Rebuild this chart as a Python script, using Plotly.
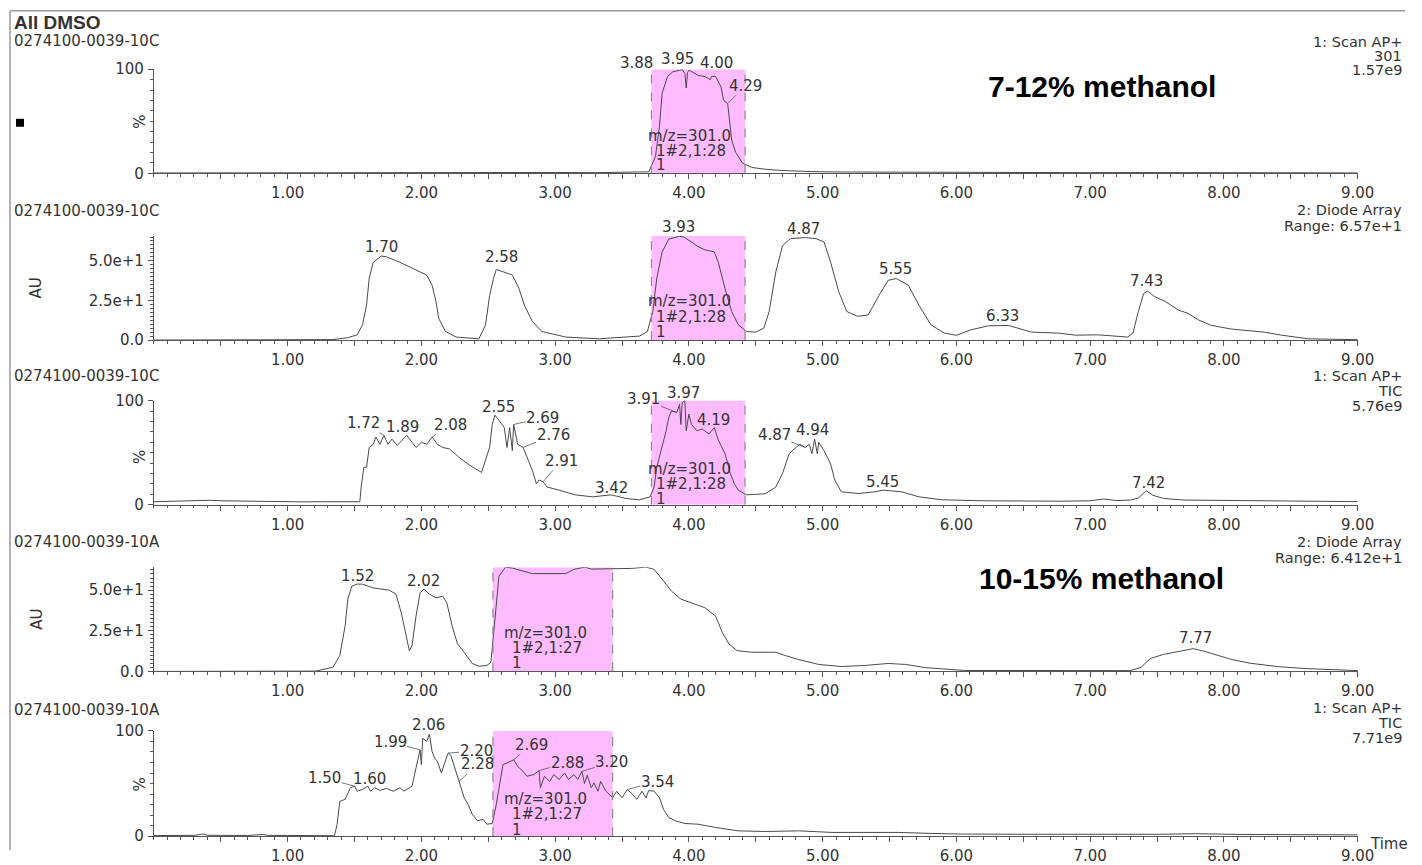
import numpy as np
import plotly.graph_objects as go

W, H = 1422, 865
# page placement of the drawing (scale and vertical offset of the rendered sheet)
SX, SY, OY = 0.989, 0.980, 8.3
TXT = "#333333"
AXC = "#555555"
TRC = "#4a4a4a"
PINK = "#FFBBFF"
FONT = "DejaVu Sans"
FS = 15

# ---------------- chromatogram data (time in min, response) ----------------
# 0274100-0039-10C, 1: Scan AP+ 301 (%)
ms301_10c = [(0, 0.4), (0.3, 0.5), (0.6, 0.7), (0.9, 0.9), (1.2, 0.8), (1.5, 1.0), (1.8, 0.8),
             (2.1, 0.9), (2.4, 0.7), (2.7, 0.8), (3.0, 0.9), (3.3, 0.7), (3.6, 0.9), (3.70, 1.5),
             (3.75, 16), (3.78, 45), (3.80, 77), (3.84, 93), (3.88, 97.5), (3.93, 99), (3.95, 99.5),
             (3.97, 96), (3.98, 82), (3.99, 97), (4.00, 99), (4.03, 97), (4.07, 94), (4.12, 93),
             (4.16, 90), (4.17, 93), (4.20, 93), (4.24, 83), (4.26, 70), (4.29, 67), (4.30, 55),
             (4.32, 32), (4.35, 20), (4.40, 10), (4.47, 5.7), (4.57, 4.0), (4.69, 2.8), (4.8, 2.2),
             (4.95, 1.6), (5.2, 1.3), (5.5, 1.1), (5.8, 1.0), (6.1, 0.9), (6.4, 0.8), (6.7, 0.9),
             (7.0, 0.7), (7.3, 0.8), (7.6, 0.9), (7.9, 0.7), (8.2, 0.6), (8.5, 0.6), (8.8, 0.5),
             (9.0, 0.4)]

# 0274100-0039-10C, 2: Diode Array (AU)
da_10c = [(0, 0), (0.5, 0), (1.0, 0), (1.34, 0.3), (1.45, 1.5), (1.52, 3.3), (1.56, 9.6), (1.59, 22),
          (1.61, 39), (1.64, 49), (1.70, 53), (1.74, 52.5), (1.84, 49), (1.96, 44), (2.04, 41),
          (2.08, 34.6), (2.11, 24), (2.13, 13.7), (2.18, 5.4), (2.26, 1.9), (2.43, 0.8), (2.48, 9.6),
          (2.51, 28), (2.54, 39), (2.56, 44.5), (2.58, 44), (2.68, 41), (2.73, 32.5), (2.77, 22),
          (2.83, 11.7), (2.90, 5.4), (3.08, 1.9), (3.33, 0.8), (3.63, 2.5), (3.69, 5.4), (3.73, 18),
          (3.76, 39), (3.80, 55.6), (3.85, 63.7), (3.93, 65.4), (3.96, 65), (4.02, 61.9),
          (4.07, 58.8), (4.12, 56.9), (4.19, 55.6), (4.22, 49), (4.27, 32.5), (4.32, 18),
          (4.37, 9.6), (4.43, 5.4), (4.50, 5), (4.56, 7.5), (4.60, 18), (4.65, 43), (4.70, 59.6),
          (4.76, 64), (4.87, 64.6), (4.95, 64), (5.01, 61.9), (5.06, 49), (5.12, 30.6), (5.18, 18),
          (5.26, 15), (5.34, 15.8), (5.42, 28), (5.49, 37.7), (5.55, 38.8), (5.64, 34.6), (5.72, 22),
          (5.81, 9.6), (5.91, 4.4), (6.00, 3), (6.11, 6.5), (6.24, 9), (6.33, 9.4), (6.39, 9.2),
          (6.46, 7.5), (6.56, 5), (6.76, 4.4), (6.89, 3.1), (7.06, 3.3), (7.18, 2.5), (7.28, 1.9),
          (7.32, 4.4), (7.36, 18), (7.40, 29.4), (7.43, 30.8), (7.48, 27.5), (7.56, 24.4),
          (7.66, 18.9), (7.73, 16.9), (7.81, 12.7), (7.90, 9.4), (8.05, 7), (8.30, 5), (8.43, 3.1),
          (8.63, 0.8), (9.0, 0.2)]

# 0274100-0039-10C, 1: Scan AP+ TIC (%)
tic_10c = [(0, 2.9), (0.1, 3.2), (0.2, 3.4), (0.3, 3.8), (0.42, 4.3), (0.5, 3.8), (0.7, 3.3),
           (0.9, 3.0), (1.1, 2.8), (1.3, 2.9), (1.54, 2.9), (1.55, 17), (1.57, 36), (1.59, 36),
           (1.60, 49), (1.61, 55), (1.64, 58), (1.66, 65), (1.69, 58), (1.72, 66.7), (1.75, 58),
           (1.78, 63), (1.82, 57), (1.86, 62), (1.89, 66.7), (1.93, 60), (1.96, 55), (2.00, 60),
           (2.04, 58), (2.08, 65), (2.12, 58), (2.16, 55), (2.21, 53.6), (2.28, 45.7), (2.36, 38),
           (2.45, 31), (2.48, 42.9), (2.51, 55), (2.53, 77), (2.55, 86), (2.58, 81), (2.62, 74),
           (2.64, 55), (2.66, 74), (2.68, 52), (2.69, 77), (2.72, 58), (2.76, 55), (2.79, 45.7),
           (2.83, 33), (2.86, 20), (2.88, 23.8), (2.91, 22), (2.94, 17), (3.03, 14), (3.15, 9.5),
           (3.28, 7.6), (3.42, 9.5), (3.53, 6), (3.63, 4.8), (3.71, 7.6), (3.74, 17), (3.76, 36),
           (3.80, 55), (3.83, 71), (3.85, 84), (3.87, 90), (3.91, 88.6), (3.93, 96.5), (3.94, 77),
           (3.95, 98), (3.97, 100), (3.98, 71), (4.00, 87), (4.02, 77), (4.06, 71), (4.10, 72.7),
           (4.15, 68), (4.19, 74), (4.22, 62), (4.27, 49), (4.31, 30), (4.34, 20), (4.37, 14),
           (4.43, 9.5), (4.57, 10.5), (4.65, 17), (4.70, 30), (4.75, 49), (4.80, 55), (4.83, 58),
           (4.87, 55), (4.90, 58), (4.92, 49), (4.94, 63), (4.96, 49), (4.97, 60), (5.01, 52),
           (5.06, 39), (5.09, 23.8), (5.14, 12.4), (5.27, 10.8), (5.39, 12.4), (5.45, 14),
           (5.59, 12.4), (5.72, 7.6), (5.89, 4.8), (6.19, 3.8), (6.4, 3.6), (6.6, 3.8), (6.8, 3.4),
           (7.0, 3.8), (7.1, 5.5), (7.2, 4.0), (7.3, 4.5), (7.36, 6.5), (7.42, 13.5), (7.47, 9),
           (7.55, 6), (7.7, 4.5), (8.0, 4.0), (8.3, 3.5), (8.6, 3.2), (9.0, 3.0)]

# 0274100-0039-10A, 2: Diode Array (AU)
da_10a = [(0, 0), (0.5, 0), (1.0, 0), (1.21, 0.2), (1.34, 2.6), (1.39, 9.8), (1.43, 28), (1.45, 44.5),
          (1.48, 52.4), (1.52, 53.8), (1.56, 53.7), (1.64, 51.4), (1.76, 50), (1.81, 47.6),
          (1.85, 36), (1.89, 20), (1.91, 12.8), (1.93, 15.9), (1.96, 34), (1.99, 48.4), (2.02, 50.6),
          (2.06, 47.6), (2.11, 45.3), (2.16, 46.3), (2.19, 42.3), (2.23, 28), (2.27, 17),
          (2.32, 11.8), (2.38, 4.9), (2.43, 3.2), (2.49, 3.7), (2.52, 5.7), (2.54, 24), (2.56, 45),
          (2.58, 58.5), (2.63, 64.2), (2.68, 63.6), (2.83, 60.2), (2.96, 60.2), (3.08, 60.2),
          (3.14, 62.8), (3.22, 64.2), (3.27, 63), (3.33, 63), (3.45, 63), (3.57, 63.4), (3.68, 64.2),
          (3.74, 62.8), (3.80, 56.7), (3.87, 49.4), (3.94, 44.5), (4.02, 42), (4.12, 39.2),
          (4.20, 34), (4.25, 24), (4.30, 16.9), (4.36, 12.8), (4.47, 11.8), (4.65, 11.8), (4.72, 9.8),
          (4.82, 7.3), (4.97, 4.3), (5.14, 3), (5.32, 3.7), (5.49, 4.9), (5.62, 4.3), (5.77, 2.3),
          (6.06, 0.6), (6.5, 0.5), (7.0, 0.4), (7.3, 0.5), (7.38, 2.5), (7.45, 8), (7.55, 10.5),
          (7.65, 12), (7.77, 14), (7.85, 12.5), (7.95, 10), (8.05, 7.5), (8.2, 5), (8.4, 3),
          (8.6, 1.8), (8.8, 1.0), (9.0, 0.5)]

# 0274100-0039-10A, 1: Scan AP+ TIC (%)
tic_10a = [(0, 0.5), (0.1, 0.6), (0.2, 0.8), (0.3, 0.7), (0.37, 2.0), (0.4, 0.8), (0.5, 0.7),
           (0.6, 0.9), (0.7, 0.6), (0.82, 1.6), (0.85, 0.7), (1.0, 0.6), (1.1, 0.7), (1.2, 0.5),
           (1.3, 0.6), (1.35, 0.4), (1.37, 11), (1.39, 33), (1.43, 35), (1.45, 40), (1.47, 46),
           (1.50, 47.5), (1.52, 42.7), (1.56, 44.3), (1.60, 47.5), (1.62, 42.7), (1.65, 46),
           (1.69, 43.4), (1.74, 45.3), (1.79, 42.7), (1.84, 46), (1.87, 42.7), (1.93, 47.5),
           (1.96, 64.8), (1.99, 82), (2.00, 68), (2.01, 93), (2.04, 90), (2.06, 97), (2.08, 80.5),
           (2.10, 74), (2.12, 71), (2.15, 60), (2.17, 68), (2.20, 79), (2.22, 77), (2.25, 64.8),
           (2.28, 52), (2.30, 42.7), (2.32, 36.5), (2.35, 30), (2.38, 20.8), (2.42, 14.5),
           (2.46, 16), (2.49, 11.3), (2.53, 12), (2.56, 30), (2.58, 46), (2.61, 68), (2.64, 69.5),
           (2.69, 72.6), (2.72, 66.3), (2.76, 61.6), (2.79, 56.9), (2.84, 58.5), (2.88, 62.3),
           (2.89, 46), (2.92, 56.9), (2.96, 52), (2.99, 58.5), (3.03, 53.8), (3.07, 60), (3.10, 53.8),
           (3.14, 58.5), (3.17, 54), (3.20, 61.6), (3.22, 50), (3.24, 58), (3.27, 46), (3.29, 50.6),
           (3.32, 42.7), (3.34, 52), (3.38, 42.7), (3.43, 36.5), (3.46, 42.7), (3.50, 36.5),
           (3.54, 44.3), (3.58, 39.6), (3.61, 35), (3.65, 42.7), (3.68, 36.5), (3.70, 43.4),
           (3.74, 42.7), (3.78, 36.5), (3.81, 25.5), (3.85, 17.6), (3.90, 14.5), (3.97, 12),
           (4.07, 11.3), (4.20, 8.2), (4.37, 5), (4.57, 4.4), (4.82, 5), (5.07, 3.5), (5.3, 3.8),
           (5.57, 3.5), (5.8, 2.6), (6.06, 1.9), (6.4, 1.8), (6.8, 1.6), (7.2, 1.5), (7.5, 1.7),
           (7.8, 2.3), (8.1, 1.6), (8.5, 1.4), (9.0, 1.2)]

# peak labels: (retention time, label dx px, label dy px, leader line)
peaks_ms301_10c = [(3.88, -36, -9, False), (3.95, -5, -11, False), (4.00, 28, -7, False),
                   (4.29, 18, -18, True)]
peaks_da_10c = [(1.70, 0, -9, False), (2.58, 3, -13, False), (3.93, -1, -9, False),
                (4.87, -2, -9, False), (5.55, -1, -10, False), (6.33, 2, -9, False),
                (7.43, -1, -10, False)]
peaks_tic_10c = [(1.72, -20, -12, True), (1.89, -4, -8, False), (2.08, 18, -12, True),
                 (2.55, 4, -8, False), (2.69, 29, -7, True), (2.76, 30, -12, True),
                 (2.91, 18, -21, True), (3.42, 0, -7, False), (3.91, -33, -13, True),
                 (3.97, -1, -8, False), (4.19, -1, -8, False), (4.87, -31, -12, True),
                 (4.94, -2, -9, False), (5.45, 0, -8, False), (7.42, 2, -8, False)]
peaks_da_10a = [(1.52, 0, -8, False), (2.02, -1, -8, False), (2.63, 0, -9, False),
                (3.22, -1, -9, False), (7.77, 2, -11, False)]
peaks_tic_10a = [(1.50, -30, -8, True), (1.60, 2, -7, False), (1.99, -30, -8, True),
                 (2.06, -1, -9, False), (2.20, 28, -2, True), (2.28, 19, -17, True),
                 (2.69, 18, -15, True), (2.88, 28, -8, True), (3.20, 30, -9, True),
                 (3.54, 30, -8, True)]

# m/z 301 extraction window per trace (min)
win_start = [3.72, 3.72, 3.72, 2.535, 2.535]
win_end = [4.42, 4.42, 4.42, 3.43, 3.43]
win_text = [["m/z=301.0", "1#2,1:28", "1"]] * 3 + [["m/z=301.0", "1#2,1:27", "1"]] * 2

sample_ids = ["0274100-0039-10C"] * 3 + ["0274100-0039-10A"] * 2
headers = [["1: Scan AP+", "301", "1.57e9"],
           ["2: Diode Array", "Range: 6.57e+1"],
           ["1: Scan AP+", "TIC", "5.76e9"],
           ["2: Diode Array", "Range: 6.412e+1"],
           ["1: Scan AP+", "TIC", "7.71e9"]]
y_max = [100, 65.7, 100, 64.12, 100]
y_unit = ["%", "AU", "%", "AU", "%"]
time_ticks = [1, 2, 3, 4, 5, 6, 7, 8, 9]

traces = [ms301_10c, da_10c, tic_10c, da_10a, tic_10a]
peak_sets = [peaks_ms301_10c, peaks_da_10c, peaks_tic_10c, peaks_da_10a, peaks_tic_10a]

# ---------------- sheet geometry (pixels on the printed sheet) ----------------
X0, X1 = 154, 1359                       # time axis 0 .. 9
axis_bottom = [174, 342, 508, 676, 842]  # row of y = 0
axis_top = [69, 237, 403, 571, 736]      # row of y = y_max
id_row = [41, 212, 378, 546, 715]
header_rows = [[42, 56, 70], [211, 227], [378, 393, 408], [546, 562], [713, 728, 743]]
header_right = 1405
header_size = 14.5
unit_pos = [(140, 122), (37, 289), (140, 460), (37, 623), (140, 790)]
win_text_dy = [[-37, -22, -8], [-39, -23, -8], [-36, -21, -6], [-38, -23, -8], [-37, -22, -6]]
win_text_dx = [[-5, 3, 3], [-5, 3, 3], [-5, 3, 3], [9, 17, 17], [9, 17, 17]]


def px(xp):
    return xp / (SX * W)


def py(yp):
    return 1 - (yp - OY) / (SY * H)


fig = go.Figure()
layout = dict(width=W, height=H, margin=dict(l=0, r=0, t=0, b=0),
              paper_bgcolor="white", plot_bgcolor="rgba(0,0,0,0)", showlegend=False,
              font=dict(family=FONT, size=FS, color=TXT))
shapes, annotations = [], []


def txt(text, xp, yp, anchor="left", size=FS, bold=False, angle=0, color=TXT):
    annotations.append(dict(xref="paper", yref="paper", x=px(xp), y=py(yp), text=text,
                            showarrow=False, xanchor=anchor, yanchor="middle", textangle=angle,
                            font=dict(family=FONT if not bold else "Liberation Sans",
                                      size=size, color=color,
                                      weight="bold" if bold else "normal")))


for i in range(5):
    n = "" if i == 0 else str(i + 1)
    xa, ya = "x" + n, "y" + n
    t = np.array([p[0] for p in traces[i]])
    v = np.array([p[1] for p in traces[i]])
    fig.add_trace(go.Scatter(x=t, y=v, mode="lines", xaxis=xa, yaxis=ya,
                             line=dict(color=TRC, width=1), hoverinfo="skip"))

    half = [0.5 + k for k in range(9)]
    xt = sorted(time_ticks + half)
    layout["xaxis" + n] = dict(
        domain=[px(X0), px(X1)], anchor=ya, range=[0, 9], showgrid=False, zeroline=False,
        showline=True, linecolor=AXC, linewidth=1, ticks="outside", ticklen=5,
        tickcolor=AXC, tickwidth=1, tickvals=xt,
        ticktext=[f"{tv:.2f}" if tv in time_ticks else "" for tv in xt],
        ticklabelstandoff=1,
        tickfont=dict(family=FONT, size=FS, color=TXT),
        minor=dict(ticks="outside", dtick=0.1, tick0=0, ticklen=2.5, tickcolor=AXC),
        fixedrange=True)

    if y_unit[i] == "%":
        yt, ytt, ymin = [0, 100], ["0", "100"], 10
    else:
        yt, ytt, ymin = [0, 25, 50], ["0.0", "2.5e+1", "5.0e+1"], 2.5
    layout["yaxis" + n] = dict(
        domain=[py(axis_bottom[i]), py(axis_top[i])], anchor=xa, range=[0, y_max[i]],
        showgrid=False, zeroline=False, showline=True, linecolor=AXC, linewidth=1,
        ticks="outside", ticklen=5, tickcolor=AXC, tickvals=yt, ticktext=ytt,
        ticklabelstandoff=1, tickfont=dict(family=FONT, size=FS, color=TXT),
        minor=dict(ticks="outside", dtick=ymin, tick0=0, ticklen=3, tickcolor=AXC),
        fixedrange=True)

    # m/z 301 window
    shapes.append(dict(type="rect", xref=xa, yref=ya, x0=win_start[i], x1=win_end[i],
                       y0=0, y1=y_max[i], fillcolor=PINK, line=dict(width=0), layer="below"))
    for xe in (win_start[i], win_end[i]):
        shapes.append(dict(type="line", xref=xa, yref=ya, x0=xe, x1=xe, y0=0, y1=y_max[i],
                           line=dict(color="#8a8a8a", width=1.2, dash="dash"), layer="above"))
    for line_txt, dx, dy in zip(win_text[i], win_text_dx[i], win_text_dy[i]):
        annotations.append(dict(xref=xa, yref=ya, x=win_start[i], y=0, text=line_txt,
                                showarrow=False, xanchor="left", yanchor="middle",
                                xshift=dx, yshift=-dy,
                                font=dict(family=FONT, size=FS, color=TXT)))

    # retention time labels
    for (pt, dx, dy, leader) in peak_sets[i]:
        pv = float(np.interp(pt, t, v))
        a = dict(xref=xa, yref=ya, x=pt, y=pv, text=f"{pt:.2f}",
                 font=dict(family=FONT, size=FS, color=TXT))
        if leader:
            a.update(showarrow=True, ax=dx, ay=dy, arrowhead=0, arrowwidth=0.8,
                     arrowcolor="#555555", standoff=0, borderpad=0)
        else:
            a.update(showarrow=False, xanchor="center", yanchor="middle",
                     xshift=dx, yshift=-dy)
        annotations.append(a)

    # sample id, trace header, unit
    txt(sample_ids[i], 12, id_row[i])
    for line_txt, yr in zip(headers[i], header_rows[i]):
        txt(line_txt, header_right, yr, anchor="right", size=header_size)
    ux, uy = unit_pos[i]
    txt(y_unit[i], ux, uy, anchor="center", angle=-90)

txt("All DMSO", 12, 22, bold=True, size=19)
txt("7-12% methanol", 1103, 86, anchor="center", bold=True, size=30, color="#000000")
txt("10-15% methanol", 1103, 582, anchor="center", bold=True, size=30, color="#000000")
txt("Time", 1390, 850, anchor="center")

# sheet border (left and top) and trace marker
shapes.append(dict(type="line", xref="paper", yref="paper", x0=px(10), x1=px(10),
                   y0=0, y1=py(10), line=dict(color="#9a9a9a", width=1.5)))
shapes.append(dict(type="line", xref="paper", yref="paper", x0=px(10), x1=1,
                   y0=py(10), y1=py(10), line=dict(color="#9a9a9a", width=1.5)))
shapes.append(dict(type="rect", xref="paper", yref="paper", x0=px(16), x1=px(24),
                   y0=py(127), y1=py(119), fillcolor="#000000", line=dict(width=0)))

layout["shapes"] = shapes
layout["annotations"] = annotations
fig.update_layout(**layout)
fig.write_html("out.html")
